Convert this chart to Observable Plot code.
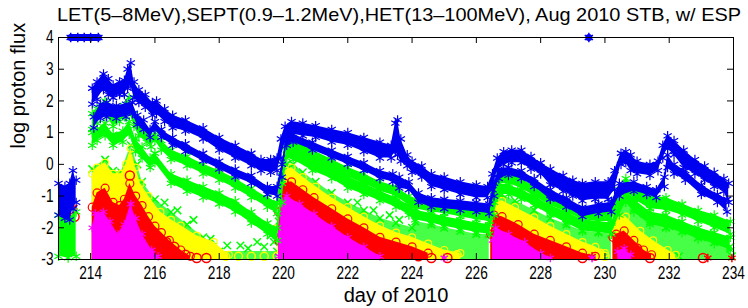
<!DOCTYPE html>
<html><head><meta charset="utf-8">
<script src="https://cdn.jsdelivr.net/npm/d3@7"></script>
<script src="https://cdn.jsdelivr.net/npm/@observablehq/plot@0.6"></script>
<style>
body{margin:0;background:#fff;font-family:"Liberation Sans",Arial,sans-serif;}
#title{display:block}
#chart svg{display:block}
</style></head><body>
<svg id="title" width="748" height="26"><text id="ttext" x="399" y="21" text-anchor="middle" font-size="19" lengthAdjust="spacingAndGlyphs" textLength="684"></text></svg>
<div id="chart"></div>
<script>
const titleText = "LET(5–8MeV),SEPT(0.9–1.2MeV),HET(13–100MeV), Aug 2010 STB, w/ ESP";
const yLabel = "log proton flux";
const xLabel = "day of 2010";
const xTicks = [214,216,218,220,222,224,226,228,230,232,234];
const yTicks = [-3,-2,-1,0,1,2,3,4];

// bands: [day, low, high]; null = data gap
const blueUpper = [
 [213.0,-1.6,-0.6],[213.2,-1.7,-0.7],[213.35,-1.75,-0.6],[213.45,-1.4,-0.2],[213.55,-1.2,-0.5], null,
 [214.05,1.9,2.4],[214.2,2.05,2.6],[214.4,2.35,2.85],[214.55,2.2,2.7],[214.7,2.1,2.5],[214.9,2.2,2.6],[215.05,2.2,2.65],[215.15,2.4,3.0],[215.25,2.5,3.2],[215.35,2.1,2.6],[215.5,1.95,2.35],[215.7,1.8,2.2],[215.92,1.55,1.95],[216.05,1.6,2.0],[216.3,1.35,1.75],[216.55,1.15,1.55],[216.95,1.05,1.4],[217.5,0.8,1.15],[218.0,0.45,0.85],[218.5,0.2,0.6],[219.0,-0.05,0.35],[219.3,-0.2,0.15],[219.6,-0.25,0.15],[219.8,-0.2,0.2],[219.92,0.2,0.8],[220.05,0.7,1.2],[220.25,0.95,1.35],[220.6,0.9,1.3],[221.0,0.85,1.22],[221.5,0.7,1.1],[222.0,0.6,1.0],[222.5,0.4,0.85],[223.0,0.2,0.7],[223.35,0.2,0.6],[223.48,0.4,1.3],[223.55,0.3,1.4],[223.65,0.1,0.8],[223.85,-0.05,0.3],[224.0,-0.25,0.1],[224.3,-0.4,-0.05],[224.6,-0.7,-0.3],[225.0,-0.8,-0.4],[225.5,-0.95,-0.55],[226.0,-1.05,-0.65],[226.35,-1.05,-0.7],[226.5,-0.8,-0.3],[226.65,-0.2,0.2],[226.85,0.0,0.4],[227.1,0.05,0.45],[227.4,0.05,0.45],[227.7,-0.15,0.25],[228.0,-0.3,0.05],[228.3,-0.65,-0.15],[228.7,-0.85,-0.35],[229.0,-1.0,-0.5],[229.3,-1.15,-0.6],[229.7,-1.1,-0.55],[230.1,-1.1,-0.55],[230.3,-0.8,-0.2],[230.5,0.0,0.35],[230.65,0.05,0.4],[230.8,-0.2,0.3],[231.0,-0.3,0.1],[231.4,-0.35,0.0],[231.65,-0.2,0.1],[231.8,0.2,0.6],[231.95,0.5,0.9],[232.15,0.3,0.75],[232.45,-0.1,0.45],[232.8,-0.3,0.15],[233.1,-0.5,-0.05],[233.4,-0.7,-0.25],[233.7,-0.85,-0.45],[233.85,-1.2,-0.6]
];
const blueLower = [
 [214.1,1.15,1.5],[214.3,1.45,1.9],[214.5,1.5,1.95],[214.8,1.45,1.85],[215.1,1.5,1.9],[215.3,1.6,1.95],[215.45,1.25,1.55],[215.65,1.1,1.4],[215.85,0.85,1.1],[216.0,1.1,1.35],[216.2,0.85,1.1],[216.55,0.6,0.85],[216.95,0.4,0.65],[217.5,0.1,0.35],[218.0,-0.15,0.1],[218.5,-0.4,-0.15],[219.0,-0.6,-0.35],[219.5,-0.95,-0.7],[219.8,-1.0,-0.7],[219.95,-0.4,0.0],[220.1,0.6,0.9],[220.3,0.7,0.95],[220.9,0.45,0.7],[221.5,0.2,0.45],[222.0,0.0,0.25],[222.5,-0.2,0.05],[223.0,-0.45,-0.2],[223.4,-0.55,-0.3],[223.6,-0.75,-0.4],[223.9,-0.8,-0.55],[224.2,-1.2,-0.9],[224.6,-1.35,-1.05],[225.0,-1.4,-1.1],[225.5,-1.45,-1.15],[226.0,-1.5,-1.2],[226.4,-1.55,-1.25],[226.55,-1.0,-0.6],[226.7,-0.45,-0.15],[227.0,-0.35,-0.1],[227.4,-0.45,-0.2],[227.8,-0.7,-0.45],[228.3,-1.1,-0.8],[228.8,-1.35,-1.05],[229.3,-1.65,-1.35],[229.8,-1.55,-1.25],[230.2,-1.5,-1.2],[230.45,-1.0,-0.6],[230.9,-0.85,-0.55],[231.3,-0.95,-0.7],[231.6,-1.05,-0.8],[231.85,-0.7,-0.4],[231.95,-0.1,0.3],[232.15,-0.3,0.0],[232.5,-0.5,-0.2],[233.0,-0.95,-0.65],[233.5,-1.2,-0.95],[233.8,-1.5,-1.1]
];
const greenUpper = [
 [214.05,1.1,1.6],[214.2,1.3,1.75],[214.45,1.6,2.0],[214.7,1.2,1.6],[214.9,1.35,1.7],[215.05,1.5,1.85],[215.2,1.7,2.1],[215.35,1.2,1.6],[215.5,0.9,1.3],[215.75,0.7,1.0],[215.88,0.55,0.85],[216.0,0.75,1.0],[216.2,0.45,0.75],[216.5,0.15,0.45],[217.0,-0.05,0.25],[217.5,-0.3,0.0],[218.0,-0.5,-0.2],[218.5,-0.75,-0.45],[219.0,-1.05,-0.75],[219.5,-1.35,-1.05],[219.8,-1.55,-1.2],[219.95,-0.6,0.0],[220.1,0.45,0.85],[220.3,0.4,0.8],[220.9,0.1,0.45],[221.5,-0.2,0.15],[222.0,-0.4,-0.1],[222.5,-0.6,-0.3],[223.0,-0.85,-0.55],[223.5,-1.0,-0.7],[223.9,-1.3,-1.0],[224.1,-1.4,-1.1],[224.6,-1.5,-1.2],[225.0,-1.55,-1.25],[225.5,-1.65,-1.35],[226.0,-1.75,-1.45],[226.4,-1.8,-1.5],[226.55,-1.2,-0.8],[226.7,-0.6,-0.3],[227.0,-0.6,-0.3],[227.4,-0.75,-0.45],[227.8,-1.0,-0.7],[228.3,-1.3,-1.0],[228.8,-1.5,-1.2],[229.3,-1.75,-1.4],[229.8,-1.8,-1.45],[230.2,-1.8,-1.45],[230.45,-1.2,-0.8],[230.65,-0.85,-0.45],[230.9,-1.1,-0.7],[231.4,-1.4,-1.0],[231.9,-1.45,-1.05],[232.4,-1.6,-1.25],[232.9,-1.8,-1.45],[233.4,-2.0,-1.6],[233.9,-2.2,-1.8]
];
const greenLower = [
 [213.0,-2.9,-1.6],[213.3,-2.95,-1.7],[213.55,-2.9,-1.5], null,
 [214.05,0.6,1.0],[214.2,0.75,1.1],[214.45,0.9,1.3],[214.7,0.6,0.95],[215.0,0.7,1.05],[215.2,0.95,1.35],[215.4,0.4,0.8],[215.6,0.2,0.55],[215.85,-0.1,0.2],[216.0,0.05,0.35],[216.5,-0.6,-0.3],[217.0,-0.85,-0.5],[217.5,-1.05,-0.7],[218.0,-1.25,-0.9],[218.5,-1.5,-1.15],[219.0,-1.85,-1.5],[219.5,-2.2,-1.85],[219.8,-2.4,-2.0],[219.95,-1.2,-0.5],[220.1,0.2,0.55],[220.3,0.15,0.5],[220.9,-0.2,0.15],[221.5,-0.45,-0.1],[222.0,-0.75,-0.4],[222.5,-0.95,-0.6],[223.0,-1.15,-0.85],[223.5,-1.35,-1.05],[223.9,-1.6,-1.3],[224.1,-1.75,-1.45],[224.6,-1.85,-1.55],[225.0,-1.95,-1.65],[225.5,-2.05,-1.75],[226.0,-2.15,-1.85],[226.4,-2.2,-1.9],[226.55,-1.6,-1.1],[226.7,-0.95,-0.6],[227.0,-0.95,-0.65],[227.4,-1.1,-0.8],[227.8,-1.3,-1.0],[228.3,-1.6,-1.3],[228.8,-1.85,-1.5],[229.3,-2.1,-1.75],[229.8,-2.15,-1.8],[230.2,-2.2,-1.85],[230.45,-1.6,-1.2],[230.65,-1.2,-0.85],[230.9,-1.5,-1.1],[231.4,-1.9,-1.5],[231.9,-2.0,-1.6],[232.4,-2.15,-1.8],[232.9,-2.35,-2.0],[233.4,-2.5,-2.15],[233.9,-2.7,-2.3]
];
const greenX = [
 [214.05,-3,-0.15],[214.45,-3,0.15],[214.7,-3,-0.2],[214.95,-3,-0.25],[215.25,-3,0.6],[215.45,-3,0.0],[215.6,-3,-0.55],[216.0,-3,-1.1],[216.5,-3,-1.5],[217.0,-3,-1.9],[217.5,-3,-2.3],[217.8,-3,-2.6],[218.0,-3,-2.75],[219.8,-3,-2.75], null,
 [219.85,-3,-1.8],[219.95,-3,-0.4],[220.1,-3,0.0],[220.3,-3,0.0],[220.6,-3,-0.25],[221.0,-3,-0.55],[221.5,-3,-0.9],[222.0,-3,-1.2],[222.5,-3,-1.45],[223.0,-3,-1.7],[223.5,-3,-1.85],[224.0,-3,-2.0],[224.1,-3,-1.8],[224.6,-3,-1.9],[225.0,-3,-2.0],[225.5,-3,-2.1],[226.0,-3,-2.2],[226.4,-3,-2.2], null,
 [226.45,-3,-1.8],[226.55,-3,-1.0],[226.8,-3,-0.95],[227.2,-3,-1.15],[227.8,-3,-1.45],[228.3,-3,-1.7],[228.8,-3,-1.9],[229.3,-3,-2.1],[229.8,-3,-2.15],[230.2,-3,-2.2], null,
 [230.25,-3,-2.0],[230.35,-3,-1.2],[230.65,-3,-1.0],[230.9,-3,-1.4],[231.4,-3,-1.8],[231.9,-3,-2.0],[232.4,-3,-2.1],[232.9,-3,-2.3],[233.4,-3,-2.45],[233.9,-3,-2.6]
];
const yellowFill = [
 [214.05,-3,-0.3],[214.2,-3,-0.1],[214.45,-3,0.05],[214.7,-3,-0.3],[214.95,-3,-0.3],[215.1,-3,0.0],[215.25,-3,0.5],[215.4,-3,-0.1],[215.55,-3,-0.6],[215.8,-3,-1.0],[216.17,-3,-1.5],[216.5,-3,-1.75],[216.8,-3,-1.93],[217.3,-3,-2.25],[217.83,-3,-2.45],[218.3,-3,-2.85], null,
 [219.82,-3,-2.0],[219.92,-3,-0.6],[220.05,-3,-0.2],[220.25,-3,-0.1],[220.6,-3,-0.4],[221.0,-3,-0.7],[221.5,-3,-1.05],[222.0,-3,-1.35],[222.5,-3,-1.65],[223.0,-3,-1.93],[223.5,-3,-2.15],[224.0,-3,-2.3],[224.5,-3,-2.5],[225.0,-3,-2.7],[225.5,-3,-2.8], null,
 [226.45,-3,-1.9],[226.55,-3,-1.2],[226.8,-3,-1.15],[227.2,-3,-1.35],[227.8,-3,-1.67],[228.3,-3,-1.95],[228.8,-3,-2.2],[229.3,-3,-2.45],[229.7,-3,-2.6],[230.0,-3,-2.8], null,
 [230.25,-3,-2.2],[230.35,-3,-1.55],[230.65,-3,-1.65],[231.1,-3,-2.1],[231.5,-3,-2.4],[231.95,-3,-2.7],[232.2,-3,-2.85]
];
const redFill = [
 [214.05,-3,-1.35],[214.2,-3,-0.9],[214.45,-3,-0.75],[214.7,-3,-1.2],[214.9,-3,-1.3],[215.05,-3,-1.1],[215.22,-3,-0.6],[215.4,-3,-1.0],[215.6,-3,-1.3],[215.8,-3,-1.65],[216.0,-3,-1.95],[216.2,-3,-2.15],[216.45,-3,-2.4],[216.8,-3,-2.7],[217.1,-3,-2.9], null,
 [219.85,-3,-1.5],[219.95,-3,-0.8],[220.05,-3,-0.6],[220.25,-3,-0.55],[220.6,-3,-0.8],[220.95,-3,-1.05],[221.5,-3,-1.4],[222.0,-3,-1.72],[222.5,-3,-2.0],[223.0,-3,-2.3],[223.5,-3,-2.45],[224.0,-3,-2.6],[224.5,-3,-2.8], null,
 [226.45,-3,-2.2],[226.55,-3,-1.6],[226.8,-3,-1.65],[227.3,-3,-1.9],[227.8,-3,-2.2],[228.3,-3,-2.4],[228.8,-3,-2.6],[229.3,-3,-2.8],[229.7,-3,-2.9], null,
 [230.25,-3,-2.3],[230.35,-3,-2.2],[230.6,-3,-2.1],[230.9,-3,-2.4],[231.2,-3,-2.7],[231.45,-3,-2.85]
];
const magentaFill = [
 [214.05,-3,-2.0],[214.15,-3,-1.55],[214.4,-3,-1.5],[214.6,-3,-1.8],[214.85,-3,-2.2],[215.05,-3,-1.9],[215.25,-3,-1.25],[215.4,-3,-1.7],[215.6,-3,-2.2],[215.9,-3,-2.7],[216.1,-3,-2.9], null,
 [219.85,-3,-2.2],[219.95,-3,-1.2],[220.1,-3,-1.0],[220.5,-3,-1.25],[220.95,-3,-1.56],[221.5,-3,-1.95],[222.0,-3,-2.3],[222.5,-3,-2.6],[223.0,-3,-2.9], null,
 [226.5,-3,-2.4],[226.6,-3,-2.0],[227.0,-3,-2.2],[227.5,-3,-2.45],[228.0,-3,-2.8],[228.3,-3,-2.95], null,
 [230.4,-3,-2.75],[230.6,-3,-2.65],[230.8,-3,-2.85]
];
// individual markers: [day, value]
const greenXPts = [[216.3,-1.2],[216.7,-1.45],[217.2,-1.75],[217.73,-2.35],[218.25,-2.56],[218.66,-2.56],[218.9,-2.65],[219.18,-2.45],[219.4,-2.6],[219.6,-2.24],[219.7,-2.45],[222.3,-1.2],[222.8,-1.45],[223.3,-1.6],[223.6,-1.75],[227.9,-1.3],[228.4,-1.5],[228.9,-1.75],[229.4,-1.9],[231.2,-1.55],[231.6,-1.7],[232.0,-1.95],[232.6,-2.1],[233.2,-2.3],[231.8,-2.9],[232.3,-2.9],[233.95,-2.9]];
const redCircles = [[215.22,-0.35],[213.5,-1.65],[216.35,-2.45],[216.6,-2.6],[216.95,-2.85],[217.3,-2.95],[217.6,-2.95],[222.5,-2.55],[222.9,-2.7],[223.3,-2.8],[223.7,-2.85],[224.2,-2.9],[224.6,-2.95],[225.1,-2.95],[227.6,-2.4],[228.0,-2.55],[228.4,-2.7],[228.9,-2.85],[229.3,-2.95],[230.4,-2.45],[230.7,-2.5],[231.0,-2.65],[231.4,-2.95],[233.05,-2.95],[219.85,-2.1],[219.88,-2.4]];
const redStars = [[213.48,-1.35],[224.2,-2.85],[229.6,-2.9],[233.2,-2.95],[233.95,-2.95]];
const yellowCircles = [[213.3,-2.7],[218.2,-2.9],[218.6,-2.9],[219.0,-2.9],[219.4,-2.9],[219.8,-2.9],[224.3,-2.75],[225.0,-2.85],[225.4,-2.85],[229.6,-2.75],[229.85,-2.8],[230.0,-2.9]];
const magentaStars = [[213.3,-2.85],[214.2,-2.8],[219.85,-2.9],[222.5,-2.8],[225.0,-2.95],[229.6,-2.95]];
const blueAtTop = [[213.38,4],[213.6,4],[213.8,4],[214.0,4],[214.24,4],null,[229.5,4]];

const C = {blue:"#0000f0", green:"#00ff00", yellow:"#ffff00", red:"#ff0000", magenta:"#ff00ff"};
const rows = a => a.map(r => r ? {d:r[0], lo:r[1], hi:r[2]} : {d:NaN, lo:NaN, hi:NaN});
const pts = a => a.map(r => r ? {d:r[0], v:r[1]} : {d:NaN, v:NaN});
const valid = a => rows(a).filter(r => !isNaN(r.d));

function band(a, color, sym, both, r) {
  const m = [Plot.areaY(rows(a), {x:"d", y1:"lo", y2:"hi", fill:color, curve:"linear"}),
             Plot.dot(valid(a), {x:"d", y:"hi", symbol:sym, r:r, stroke:color, strokeWidth:1.2})];
  if (both) m.push(Plot.dot(valid(a), {x:"d", y:"lo", symbol:sym, r:r, stroke:color, strokeWidth:1.2}));
  return m;
}

document.getElementById("ttext").textContent = titleText;

const W = 748, H = 282, mL = 58, mR = 15, mT = 11, mB = 49;
const pw = W - mL - mR, ph = H - mT - mB, tk = 6;

const svg = Plot.plot({
  width: W, height: H, marginLeft: mL, marginRight: mR, marginTop: mT, marginBottom: mB,
  style: {fontFamily: "Liberation Sans, Arial, sans-serif", fontSize: "18px", background: "white", overflow: "visible", color: "black"},
  x: {domain: [213, 234], ticks: xTicks, tickSize: 0, tickPadding: 7, tickFormat: d => String(d), label: null},
  y: {domain: [-3, 4], ticks: yTicks, tickSize: 0, tickPadding: 5, tickFormat: d => String(d), label: null},
  marks: [
    Plot.areaY(rows(greenX), {x:"d", y1:"lo", y2:"hi", fill:C.green, fillOpacity:0.72, curve:"linear"}),
    Plot.dot(valid(greenX), {x:"d", y:"hi", symbol:"times", r:3.5, stroke:C.green}),
    Plot.dot(pts(greenXPts), {x:"d", y:"v", symbol:"times", r:3.5, stroke:C.green}),
    ...band(yellowFill, C.yellow, "circle", false, 3.5),
    Plot.dot(pts(yellowCircles), {x:"d", y:"v", symbol:"circle", r:4, stroke:C.yellow}),
    ...band(redFill, C.red, "circle", false, 4),
    Plot.dot(pts(redCircles), {x:"d", y:"v", symbol:"circle", r:4.5, stroke:C.red}),
    Plot.dot(pts(redStars), {x:"d", y:"v", symbol:"asterisk", r:4, stroke:C.red}),
    ...band(magentaFill, C.magenta, "asterisk", false, 4),
    Plot.dot(pts(magentaStars), {x:"d", y:"v", symbol:"asterisk", r:4, stroke:C.magenta}),
    ...band(greenLower, C.green, "asterisk", true, 4.5),
    ...band(greenUpper, C.green, "asterisk", true, 4.5),
    ...band(blueLower, C.blue, "asterisk", true, 4.5),
    ...band(blueUpper, C.blue, "asterisk", true, 4.5),
    Plot.line(pts(blueAtTop), {x:"d", y:"v", stroke:C.blue, strokeWidth:7}),
    Plot.dot(pts(blueAtTop).filter(p => !isNaN(p.d)), {x:"d", y:"v", symbol:"asterisk", r:4.5, stroke:C.blue, strokeWidth:1.5}),
    Plot.frame({stroke:"black"}),
    Plot.ruleX(xTicks, {insetTop: ph - tk, stroke:"black"}),
    Plot.ruleX(xTicks, {insetBottom: ph - tk, stroke:"black"}),
    Plot.ruleY(yTicks, {insetRight: pw - tk, stroke:"black"}),
    Plot.ruleY(yTicks, {insetLeft: pw - tk, stroke:"black"}),
    Plot.text([xLabel], {frameAnchor:"bottom", lineAnchor:"middle", dy:36, fontSize:20, fill:"black"}),
    Plot.text([yLabel], {frameAnchor:"left", rotate:-90, dx:-40, fontSize:20, fill:"black"})
  ]
});

svg.querySelectorAll('g[aria-label^="x-axis"] text, g[aria-label^="y-axis"] text').forEach(t => {
  const x = parseFloat(t.getAttribute("x")) || 0;
  t.removeAttribute("x");
  const tr = t.getAttribute("transform") || "";
  t.setAttribute("transform", `${tr} translate(${x},0) scale(0.76,1)`);
});
document.getElementById("chart").appendChild(svg);
</script>
</body></html>
